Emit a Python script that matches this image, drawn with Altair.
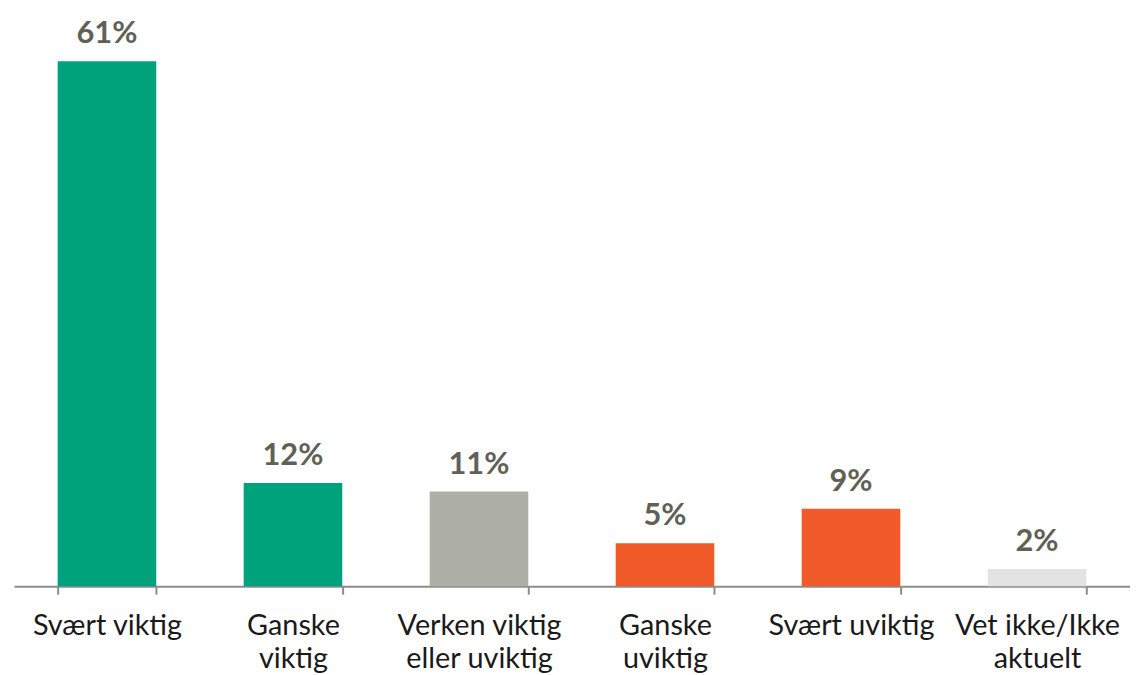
import altair as alt
import pandas as pd

categories = ["Svært viktig", "Ganske viktig", "Verken viktig eller uviktig",
              "Ganske uviktig", "Svært uviktig", "Vet ikke/Ikke aktuelt"]
label_lines = [["Svært viktig"], ["Ganske", "viktig"], ["Verken viktig", "eller uviktig"],
               ["Ganske", "uviktig"], ["Svært uviktig"], ["Vet ikke/Ikke", "aktuelt"]]
values = [61, 12, 11, 5, 9, 2]
colors = ["#00A27B", "#00A27B", "#ADAFA7", "#F15A29", "#F15A29", "#E3E3E3"]

df = pd.DataFrame({"cat": categories, "val": values, "col": colors,
                   "lbl": [f"{v}%" for v in values]})

expr = "''"
for c, lines in reversed(list(zip(categories, label_lines))):
    arr = "[" + ",".join(f"'{l}'" for l in lines) + "]"
    expr = f"datum.value == '{c}' ? {arr} : ({expr})"

x = alt.X("cat:N", sort=categories, title=None,
          scale=alt.Scale(paddingInner=0.47, paddingOuter=0.235),
          axis=alt.Axis(labelAngle=0, labelExpr=expr, tickBand="extent",
                        tickSize=8, tickColor="#8C8C8C", tickWidth=2,
                        domainColor="#8C8C8C", domainWidth=2,
                        labelFont="Lato", labelFontSize=29, labelColor="#1A1A1A",
                        labelLineHeight=33, labelPadding=18, labelBaseline="top"))
y = alt.Y("val:Q", scale=alt.Scale(domain=[0, 66], nice=False, zero=True), axis=None)

bars = alt.Chart(df).mark_bar().encode(x=x, y=y, color=alt.Color("col:N", scale=None))
text = alt.Chart(df).mark_text(baseline="alphabetic", dy=-18, font="Lato", fontSize=31,
                               fontWeight="bold", color="#5F6157").encode(
    x=alt.X("cat:N", sort=categories), y="val:Q", text="lbl:N")

chart = (bars + text).properties(
    width=1124, height=572,
    autosize=alt.AutoSizeParams(type="none"),
    padding={"left": 6, "top": 8, "right": 0, "bottom": 87},
).configure(background="white", view=alt.ViewConfig(stroke=None))

chart.save("out.html", embed_options={"renderer": "svg", "actions": False})
